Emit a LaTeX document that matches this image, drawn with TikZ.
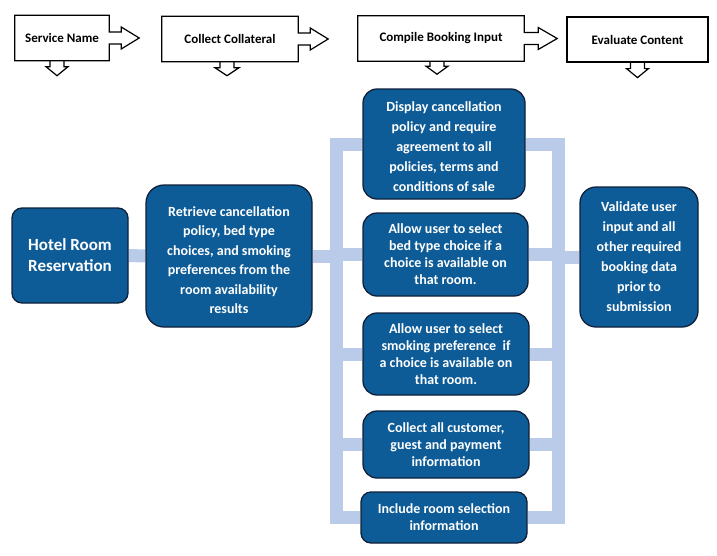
\documentclass[tikz,border=0pt]{standalone}
\usepackage{fontspec}
\setmainfont{Carlito}
\usetikzlibrary{backgrounds}
\definecolor{boxblue}{HTML}{0E5C97}
\definecolor{boxedge}{HTML}{10203A}
\definecolor{buscolor}{HTML}{B9CBE9}
\tikzset{
  hdr/.style={minimum height=45pt, inner sep=0pt, font=\fontsize{13}{15}\selectfont\bfseries},
  hdrline/.style={line width=1.2pt, line join=miter},
  task/.style={draw=boxedge, line width=1.3pt, fill=boxblue, rounded corners=14pt, text=white,
    align=center, inner sep=0pt, font=\fontsize{14}{17}\selectfont\bfseries},
  tall/.style={font=\fontsize{14}{20}\selectfont\bfseries},
  bus/.style={buscolor, line width=13pt, line join=miter},
}
\begin{document}
\begin{tikzpicture}[x=1pt, y=-1pt]
    \useasboundingbox (0,0) rectangle (717,555);

    % Header steps
    % ---------------------
    \node[hdr, minimum width=94pt] (svc) at (62,38) {Service Name};
    \node[hdr, minimum width=136pt] (coll) at (230,39) {Collect Collateral};
    \node[hdr, minimum width=166pt] (comp) at (441,38.5) {Compile Booking Input};
    \node[hdr, draw, line width=1.2pt, minimum width=141pt] (eval) at (637.5,39.5) {Evaluate Content};
    \draw[hdrline] (svc.east) ++(0,-6) -- ++(12,0) -- ++(0,-5) -- ++(18,11) -- ++(-18,11) -- ++(0,-5) -- ++(-12,0) -- (svc.south east) -- (svc.south west) -- (svc.north west) -- (svc.north east) -- cycle;
    \draw[hdrline] (coll.east) ++(0,-6) -- ++(12,0) -- ++(0,-5) -- ++(18,11) -- ++(-18,11) -- ++(0,-5) -- ++(-12,0) -- (coll.south east) -- (coll.south west) -- (coll.north west) -- (coll.north east) -- cycle;
    \draw[hdrline] (comp.east) ++(0,-6) -- ++(14,0) -- ++(0,-5) -- ++(19,11) -- ++(-19,11) -- ++(0,-5) -- ++(-14,0) -- (comp.south east) -- (comp.south west) -- (comp.north west) -- (comp.north east) -- cycle;
    \draw[hdrline] (svc.south) ++(-12,0) -- ++(0,6) -- ++(-4,0) -- ++(11,9) -- ++(11,-9) -- ++(-4,0) -- ++(0,-6);
    \draw[hdrline] (coll.south) ++(-10,0) -- ++(0,6) -- ++(-5,0) -- ++(12,8) -- ++(12,-8) -- ++(-5,0) -- ++(0,-6);
    \draw[hdrline] (comp.south) ++(-11,0) -- ++(0,5) -- ++(-4,0) -- ++(11,8) -- ++(11,-8) -- ++(-4,0) -- ++(0,-5);
    \draw[hdrline] (eval.south) ++(-7,0) -- ++(0,6) -- ++(-4,0) -- ++(11,9) -- ++(11,-9) -- ++(-4,0) -- ++(0,-6);

    % Task boxes
    % ---------------------
    \node[task, minimum width=116pt, minimum height=95pt, rounded corners=10pt,
      font=\fontsize{17}{21}\selectfont\bfseries] (hotel) at (70,255.5) {Hotel Room\\Reservation};
    \node[task, tall, minimum width=166pt, minimum height=142pt, rounded corners=18pt,
      font=\fontsize{14}{19.5}\selectfont\bfseries] (retrieve) at (229,256)
      {\rule{0pt}{18pt}Retrieve cancellation\\policy, bed type\\choices, and smoking\\preferences from the\\room availability\\results};
    \node[task, tall, minimum width=162pt, minimum height=110pt] (display) at (444,144)
      {\rule{0pt}{16pt}Display cancellation\\policy and require\\agreement to all\\policies, terms and\\conditions of sale};
    \node[task, minimum width=165pt, minimum height=83pt] (bed) at (445.5,254.5)
      {Allow user to select\\bed type choice if a\\choice is available on\\that room.};
    \node[task, minimum width=166pt, minimum height=82pt] (smoking) at (446,354)
      {Allow user to select\\smoking preference\ \ if\\a choice is available on\\that room.};
    \node[task, minimum width=166pt, minimum height=67pt] (collect) at (446,444.5)
      {Collect all customer,\\guest and payment\\information};
    \node[task, minimum width=166pt, minimum height=51pt, rounded corners=10pt] (include) at (444,517.5)
      {Include room selection\\information};
    \node[task, tall, minimum width=118pt, minimum height=140pt, rounded corners=16pt] (validate) at (639,257)
      {Validate user\\input and all\\other required\\booking data\\prior to\\submission};

    % Bus bars
    % ---------------------
    \coordinate (lbus) at (336,0);
    \coordinate (rbus) at (558,0);
    \begin{scope}[on background layer]
      \draw[bus] (hotel.east) -- (retrieve.west);
      \draw[bus] (retrieve.east) -- (lbus |- retrieve.east);
      \draw[bus] (display.west) -| (lbus |- include.west) -- (include.west);
      \draw[bus] (display.east) -| (rbus |- include.east) -- (include.east);
      \draw[bus] (bed.west) -- (lbus |- bed.west);
      \draw[bus] (smoking.west) -- (lbus |- smoking.west);
      \draw[bus] (collect.west) -- (lbus |- collect.west);
      \draw[bus] (bed.east) -- (rbus |- bed.east);
      \draw[bus] (smoking.east) -- (rbus |- smoking.east);
      \draw[bus] (collect.east) -- (rbus |- collect.east);
      \draw[bus] (rbus |- validate.west) -- (validate.west);
    \end{scope}
\end{tikzpicture}
\end{document}
